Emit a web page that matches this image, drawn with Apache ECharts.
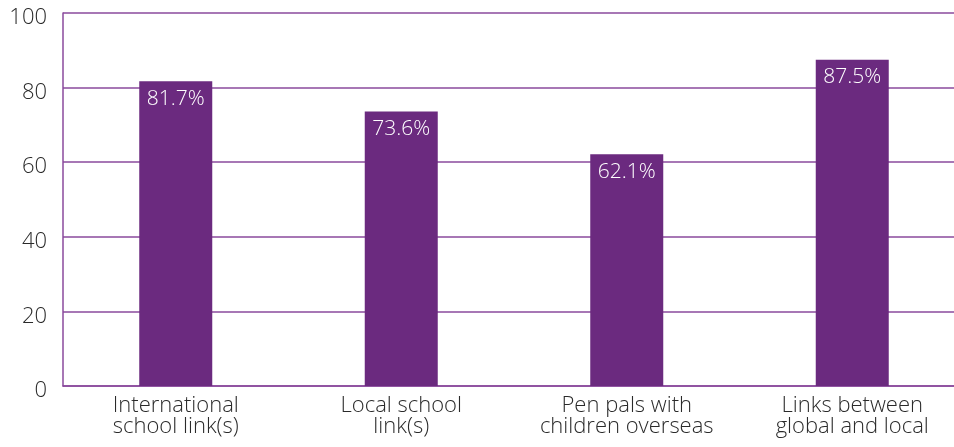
<!DOCTYPE html>
<html><head><meta charset="utf-8">
<script src="https://cdn.jsdelivr.net/npm/echarts@6/dist/echarts.min.js"></script>
<style>html,body{margin:0;padding:0;background:#fff;overflow:hidden}#c{width:966px;height:447px}</style>
</head><body><div id="c"></div>
<script>
const categories = ["International\nschool link(s)", "Local school\nlink(s)", "Pen pals with\nchildren overseas", "Links between\nglobal and local"];
const values = [81.7, 73.6, 62.1, 87.5];
const yTicks = [0, 20, 40, 60, 80, 100];

const purple = "#6b2a7f";
const gridColor = "#8a4a9c";
const chart = echarts.init(document.getElementById('c'));
chart.setOption({
  animation: false,
  grid: {left: 63, right: 1, top: 13, bottom: 61, containLabel: false},
  xAxis: {
    type: 'category', data: categories,
    axisLine: {lineStyle: {color: gridColor, width: 1.5}},
    axisTick: {show: false},
    axisLabel: {fontFamily: 'Open Sans', fontWeight: 300, fontSize: 22, color: '#2a2a2a', lineHeight: 21, margin: 9, interval: 0}
  },
  yAxis: {
    type: 'value', min: yTicks[0], max: yTicks[yTicks.length-1], interval: 20,
    axisLine: {show: true, lineStyle: {color: gridColor, width: 1.5}},
    axisTick: {show: false},
    splitLine: {lineStyle: {color: gridColor, width: 1.5}},
    axisLabel: {fontFamily: 'Open Sans', fontWeight: 300, fontSize: 22, color: '#2a2a2a', margin: 16, verticalAlign: 'top', lineHeight: 10}
  },
  series: [{
    type: 'bar', data: values, barWidth: 73,
    itemStyle: {color: purple},
    label: {show: true, position: 'insideTop', distance: 7, color: '#fff', fontFamily: 'Open Sans', fontWeight: 300, fontSize: 21,
      formatter: p => p.value.toFixed(1) + '%'}
  }]
});
</script></body></html>
